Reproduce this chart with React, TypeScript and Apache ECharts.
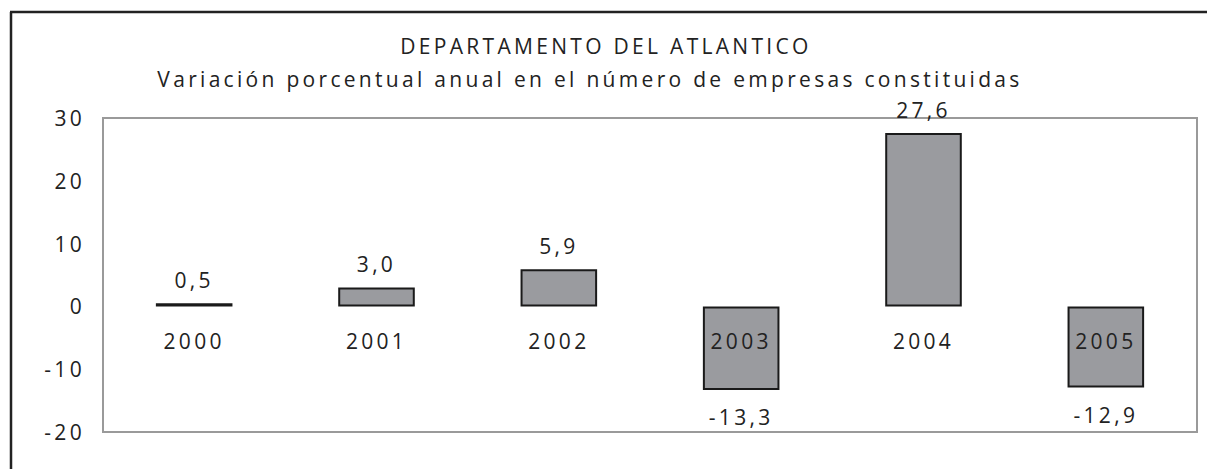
import React, { useEffect, useRef } from "react";
import * as echarts from "echarts";

const categories = ["2000", "2001", "2002", "2003", "2004", "2005"];
const values = [0.5, 3.0, 5.9, -13.3, 27.6, -12.9];
const titleText = "DEPARTAMENTO DEL ATLANTICO";
const subtitleText = "Variación porcentual anual en el número de empresas constituidas";

const FONT = "Open Sans";
const FS = 21;
const fmt = (v: number) => v.toFixed(1).replace(".", ",");

export default function App() {
  const ref = useRef<HTMLDivElement>(null);
  useEffect(() => {
    const chart = echarts.init(ref.current!, undefined, { renderer: "svg" });
    const data = values.map((v) => ({
      value: v,
      label: { distance: v < 0 ? 17 : 13 },
    }));
    chart.setOption({
      animation: false,
      backgroundColor: "#ffffff",
      textStyle: { fontFamily: FONT },
      title: [
        {
          text: titleText,
          left: 601,
          top: 30,
          textAlign: "center",
          textStyle: { fontFamily: FONT, fontSize: FS, fontWeight: "normal", color: "#222" },
        },
        {
          text: subtitleText,
          left: 585,
          top: 63,
          textAlign: "center",
          textStyle: { fontFamily: FONT, fontSize: FS, fontWeight: "normal", color: "#222", letterSpacing: 3.5 },
        },
      ],
      grid: {
        left: 103,
        top: 118,
        right: 10,
        bottom: 37,
        show: true,
        borderColor: "#9a9a9a",
        borderWidth: 2,
        backgroundColor: "transparent",
      },
      xAxis: {
        type: "category",
        data: categories,
        z: 10,
        offset: -126,
        axisLine: { show: false, onZero: false },
        axisTick: { show: false },
        axisLabel: { fontFamily: FONT, fontSize: FS, color: "#222", margin: 24 },
      },
      yAxis: {
        type: "value",
        min: -20,
        max: 30,
        interval: 10,
        splitLine: { show: false },
        axisLine: { show: false },
        axisTick: { show: false },
        axisLabel: { fontFamily: FONT, fontSize: FS, color: "#222", margin: 18 },
      },
      series: [
        {
          type: "bar",
          data,
          barWidth: "42%",
          itemStyle: { color: "#9a9b9f", borderColor: "#1a1a1a", borderWidth: 2 },
          label: {
            show: true,
            position: "outside",
            fontFamily: FONT,
            fontSize: FS,
            color: "#222",
            formatter: (p: any) => fmt(p.value),
          },
        },
      ],
      graphic: [
        { type: "line", shape: { x1: 11, y1: 12, x2: 11, y2: 469 }, style: { stroke: "#222", lineWidth: 2.5 } },
        { type: "line", shape: { x1: 10, y1: 12, x2: 1207, y2: 12 }, style: { stroke: "#222", lineWidth: 2.5 } },
      ],
    });
    return () => chart.dispose();
  }, []);
  return (
    <div
      ref={ref}
      style={{ position: "fixed", left: 0, top: 0, width: 1207, height: 469, letterSpacing: "3.3px" }}
    />
  );
}
